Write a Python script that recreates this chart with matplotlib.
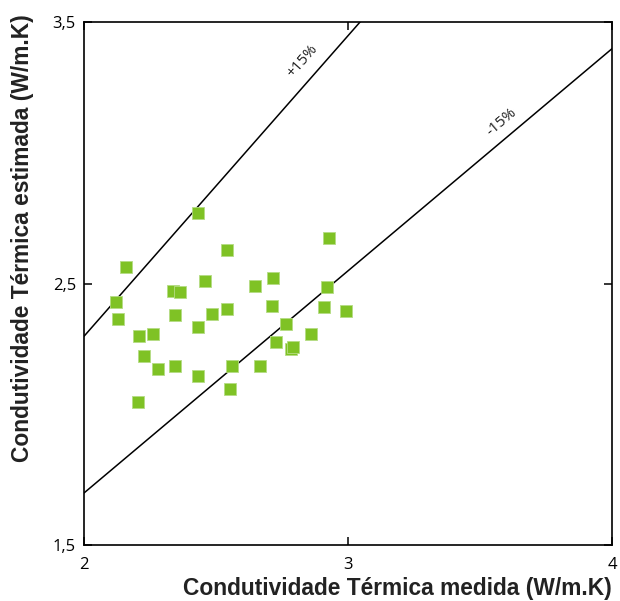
import numpy as np
import matplotlib.pyplot as plt

# measured vs estimated thermal conductivity (W/m.K)
medida = [2.432, 2.539, 2.158, 2.457, 2.337, 2.363, 2.647, 2.716, 2.927, 2.920,
          2.121, 2.127, 2.344, 2.483, 2.539, 2.712, 2.908, 2.991, 2.763, 2.858,
          2.208, 2.259, 2.430, 2.725, 2.783, 2.791, 2.227, 2.280, 2.344, 2.430,
          2.558, 2.666, 2.552, 2.202]
estimada = [2.769, 2.629, 2.565, 2.511, 2.473, 2.467, 2.492, 2.520, 2.673, 2.487,
            2.428, 2.365, 2.380, 2.384, 2.403, 2.416, 2.410, 2.397, 2.346, 2.307,
            2.301, 2.307, 2.333, 2.276, 2.250, 2.257, 2.224, 2.173, 2.186, 2.148,
            2.186, 2.186, 2.097, 2.046]
limites = [1.15, 0.85]
rotulos = ['+15%', '-15%']

fig = plt.figure(figsize=(6.2, 6.01), dpi=100)
ax = fig.add_axes([0.136, 0.0932, 0.8516, 0.8697])

xs = np.array([2, 4])
for f in limites:
    ax.plot(xs, f * xs, color='black', lw=1.1)

ax.scatter(medida, estimada, marker='s', s=80, color='#7fc225',
           edgecolors='#b5dc84', linewidths=0.6, zorder=3)

ax.text(2.825, 3.352, rotulos[0], rotation=48.7, ha='center', va='center',
        fontsize=11, family='Open Sans', color='#222222')
ax.text(3.581, 3.118, rotulos[1], rotation=40.1, ha='center', va='center',
        fontsize=11, family='Open Sans', color='#222222')

ax.set_xlim(2, 4)
ax.set_ylim(1.5, 3.5)
ax.set_xticks([2, 3, 4])
ax.set_xticklabels(['2', '3', '4'], family='Open Sans', fontsize=12)
ax.set_yticks([1.5, 2.5, 3.5])
ax.set_yticklabels(['1,5', '2,5', '3,5'], family='Open Sans', fontsize=12)
ax.tick_params(direction='in', length=6, width=1.1, top=True, right=True, pad=6)
ax.tick_params(axis='x', pad=9)
for s in ax.spines.values():
    s.set_linewidth(1.2)

ax.set_xlabel('Condutividade Térmica medida (W/m.K)', family='Liberation Sans',
              fontweight='bold', fontsize=16.4, color='#222222')
ax.set_ylabel('Condutividade Térmica estimada (W/m.K)', family='Liberation Sans',
              fontweight='bold', fontsize=16.4, color='#222222')
ax.xaxis.set_label_coords(0.593, -0.062)
ax.yaxis.set_label_coords(-0.096, 0.587)

fig.savefig('out.png', dpi=100)
